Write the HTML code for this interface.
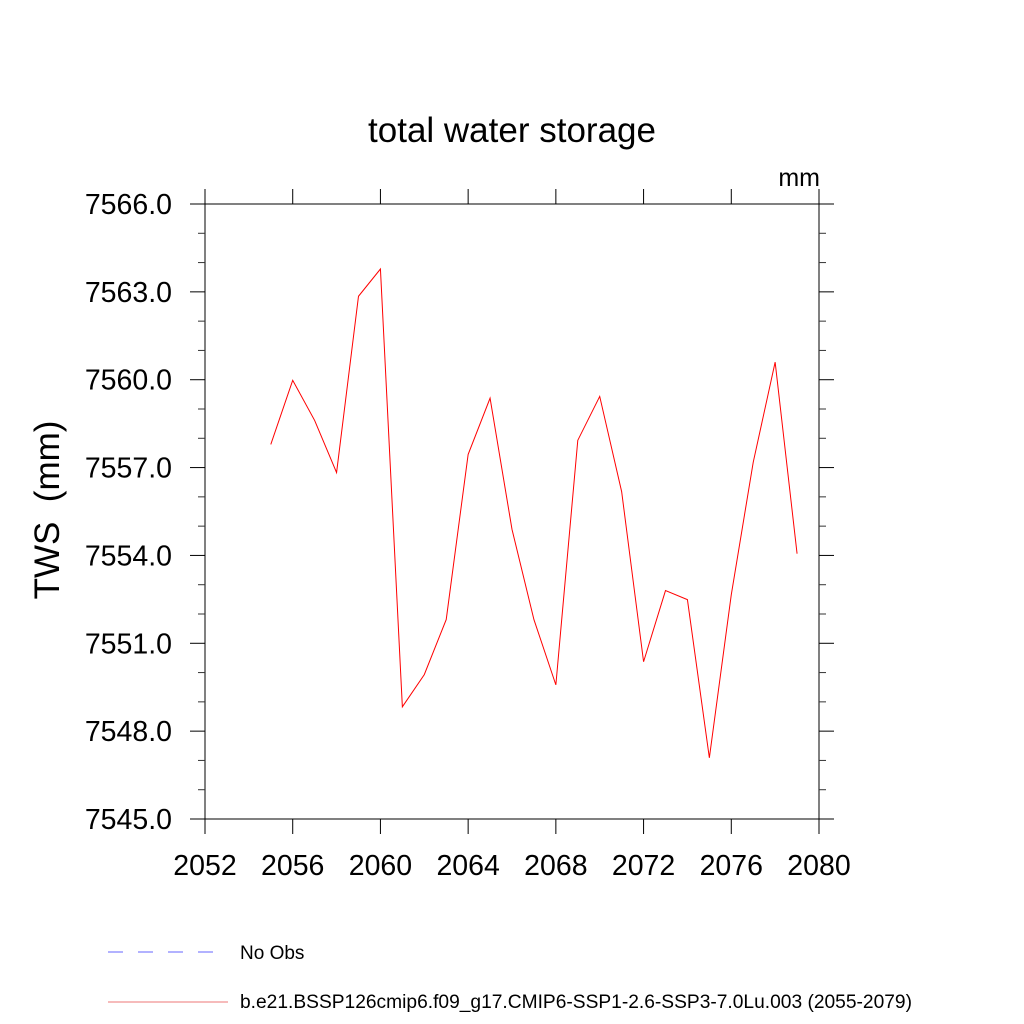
<!DOCTYPE html>
<html><head><meta charset="utf-8"><style>
html,body{margin:0;padding:0;background:#fff;}
svg{display:block;font-family:"Liberation Sans",sans-serif;}
</style></head><body>
<svg id="chart" width="1024" height="1024" viewBox="0 0 1024 1024">
<text x="512" y="142" font-size="35" text-anchor="middle">total water storage</text>
<text x="820" y="186" font-size="25" text-anchor="end">mm</text>
<text transform="translate(59,510) rotate(-90)" font-size="35" text-anchor="middle" xml:space="preserve" style="white-space:pre">TWS  (mm)</text>
<g id="axes"></g>
<g id="series"></g>
<g>
<line x1="108" y1="952" x2="215" y2="952" stroke="#6666ff" stroke-width="1" stroke-dasharray="15,15"/>
<text x="240" y="959" font-size="19">No Obs</text>
<line x1="108" y1="1002" x2="228" y2="1002" stroke="#ee7777" stroke-width="1"/>
<text x="240" y="1008" font-size="19.2">b.e21.BSSP126cmip6.f09_g17.CMIP6-SSP1-2.6-SSP3-7.0Lu.003 (2055-2079)</text>
</g>
</svg>
<script>
const years=[2055,2056,2057,2058,2059,2060,2061,2062,2063,2064,2065,2066,2067,2068,2069,2070,2071,2072,2073,2074,2075,2076,2077,2078,2079];
const tws=[7557.79,7559.98,7558.61,7556.83,7562.85,7563.78,7548.83,7549.93,7551.81,7557.45,7559.37,7554.89,7551.81,7549.58,7557.93,7559.43,7556.18,7550.37,7552.80,7552.49,7547.09,7552.66,7557.18,7560.60,7554.06];
const xTicks=[2052,2056,2060,2064,2068,2072,2076,2080];
const yTicks=[7545,7548,7551,7554,7557,7560,7563,7566];
const yMinor=[7546,7547,7549,7550,7552,7553,7555,7556,7558,7559,7561,7562,7564,7565];
const X0=205,X1=819,Y0=819,Y1=204;
const xs=v=>X0+(v-2052)/(2080-2052)*(X1-X0);
const ys=v=>Y0-(v-7545)/(7566-7545)*(Y0-Y1);
const NS='http://www.w3.org/2000/svg';
const axes=document.getElementById('axes');
function ln(x1,y1,x2,y2,name,c){const l=document.createElementNS(NS,'line');l.setAttribute('x1',x1);l.setAttribute('y1',y1);l.setAttribute('x2',x2);l.setAttribute('y2',y2);l.setAttribute('stroke',c||'#000');l.setAttribute('stroke-width','1');


axes.appendChild(l);}
function tx(x,y,s,anchor,name){const t=document.createElementNS(NS,'text');t.setAttribute('x',x);t.setAttribute('y',y);t.setAttribute('font-size','28.5');t.setAttribute('text-anchor',anchor);t.textContent=s;


axes.appendChild(t);}
const fr=document.createElementNS(NS,'rect');fr.setAttribute('x',X0);fr.setAttribute('y',Y1);fr.setAttribute('width',X1-X0);fr.setAttribute('height',Y0-Y1);fr.setAttribute('fill','none');fr.setAttribute('stroke','#000');


axes.appendChild(fr);
xTicks.forEach(v=>{const x=xs(v);ln(x,Y0,x,Y0+15,'x-tick');ln(x,Y1,x,Y1-15,'x-tick-top');tx(x,875,String(v),'middle','x-tick-label');});
yTicks.forEach(v=>{const y=ys(v);ln(X0,y,X0-15,y,'y-tick');ln(X1,y,X1+15,y,'y-tick-right');tx(X0-33,y+10,v.toFixed(1),'end','y-tick-label');});
yMinor.forEach(v=>{const y=ys(v);ln(X0,y,X0-7,y,'y-minor-tick','#333');ln(X1,y,X1+7,y,'y-minor-tick-right','#333');});
const p=document.createElementNS(NS,'polyline');
p.setAttribute('points',years.map((yr,i)=>xs(yr)+','+ys(tws[i])).join(' '));
p.setAttribute('fill','none');p.setAttribute('stroke','#ff0000');p.setAttribute('stroke-width','1');


document.getElementById('series').appendChild(p);
</script>
</body></html>
